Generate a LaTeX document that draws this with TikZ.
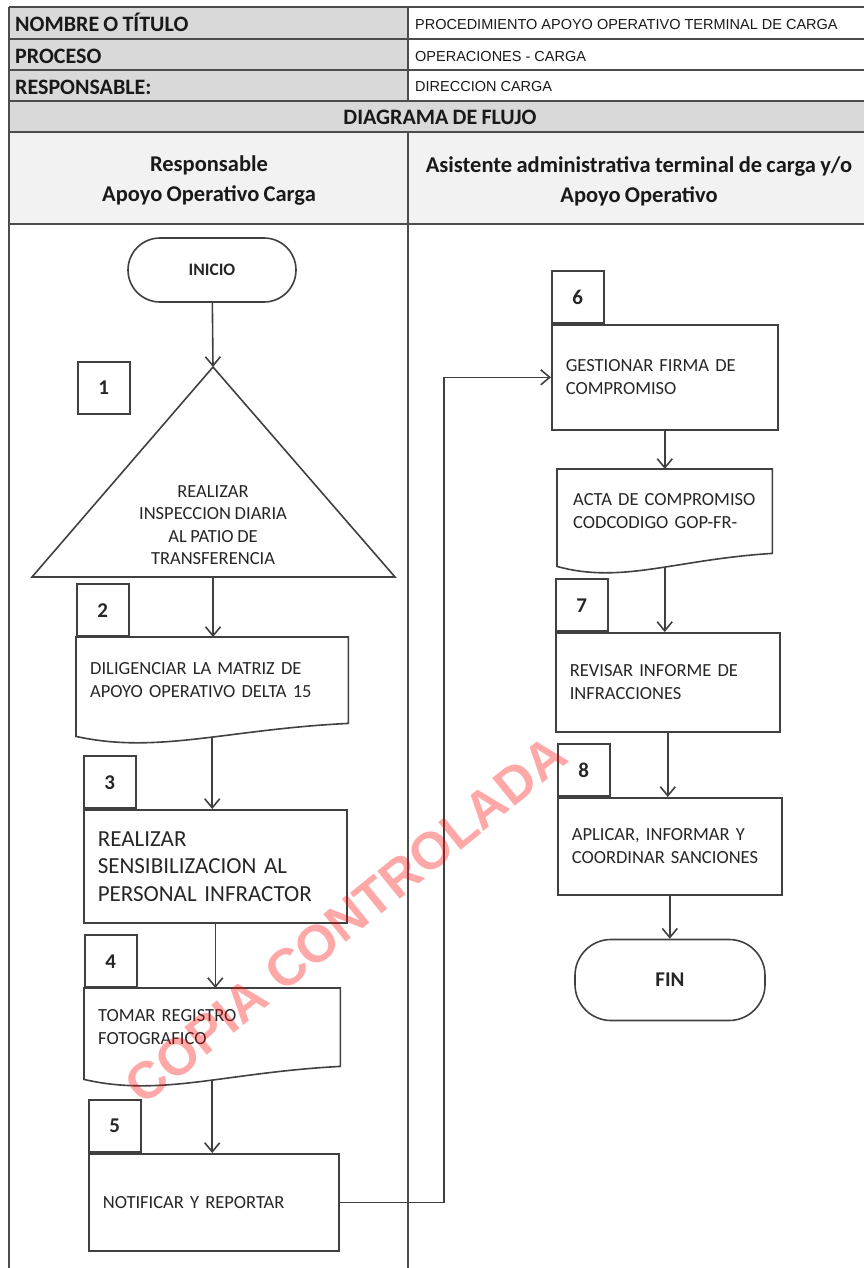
\documentclass[tikz,border=0pt]{standalone}
\usepackage{fontspec}
\setmainfont[WordSpace=0.85]{Carlito}
\newfontfamily\narrowfont{Liberation Sans}
\newfontfamily\markfont{Liberation Sans}
\usetikzlibrary{arrows.meta,calc}

\definecolor{cellgray}{HTML}{D9D9D9}
\definecolor{lanegray}{HTML}{F2F2F2}
\definecolor{ink}{HTML}{262626}

% document symbol: flat top, wavy bottom
\newcommand\docwave[1]{%
  \draw[outline] ([yshift=-13pt]#1.south west) -- (#1.north west) -- (#1.north east) -- (#1.south east)
    .. controls ($(#1.south west)!0.55!(#1.south east)+(0pt,-6pt)$) and ($(#1.south west)!0.3!(#1.south east)+(0pt,-31pt)$) .. ([yshift=-13pt]#1.south west) -- cycle;}

\begin{document}
\begin{tikzpicture}[x=1pt,y=-1pt,
    grid/.style={draw=black!70,line width=2pt},
    outline/.style={draw=black!75,line width=1.6pt},
    arr/.style={draw=black!75,line width=1.6pt,-{Straight Barb[length=9pt,width=15pt]}},
    flowtxt/.style={text=ink,font=\fontsize{18.5}{23.5}\selectfont},
    proc/.style={outline,flowtxt,anchor=north west,inner xsep=14pt,inner ysep=0pt,align=left},
    doc/.style={flowtxt,anchor=north west,inner xsep=14pt,inner ysep=0pt,align=left},
    tab/.style={outline,anchor=south west,minimum width=52pt,minimum height=52pt,inner sep=0pt,text=ink,font=\bfseries\fontsize{21}{21}\selectfont},
    term/.style={outline,text=ink,font=\bfseries\fontsize{17.5}{17.5}\selectfont},
    cellhdr/.style={anchor=base west,inner sep=0pt,text=black!90,font=\bfseries\fontsize{22}{22}\selectfont},
    cellval/.style={anchor=base west,inner sep=0pt,text=black!90,font=\narrowfont\fontsize{14.5}{14.5}\selectfont},
    lanehdr/.style={align=center,inner sep=0pt,text=black!90,font=\bfseries\fontsize{22.5}{30}\selectfont}]
    \useasboundingbox (0,0) rectangle (864,1268);
    \clip (0,0) rectangle (864,1268);

    % Header cells
    \fill[cellgray] (9,7) rectangle (408,101);
    \fill[cellgray] (9,101) rectangle (870,132);
    \fill[lanegray] (9,132) rectangle (870,224);
    \foreach \y in {7,39,70,101,132,224}
        \draw[grid] (9,\y) -- (870,\y);
    \draw[grid] (9,7) -- (9,1270);
    \draw[grid] (408,7) -- (408,101);
    \draw[grid] (408,132) -- (408,1270);

    \node[cellhdr] (tname) at (15,32) {NOMBRE O TÍTULO};
    \node[cellhdr] (tproc) at (15,64) {PROCESO};
    \node[cellhdr] (tresp) at (15,95) {RESPONSABLE:};
    \node[cellval] (vname) at (415,30) {PROCEDIMIENTO APOYO OPERATIVO TERMINAL DE CARGA};
    \node[cellval] (vproc) at (415,62) {OPERACIONES - CARGA};
    \node[cellval] (vresp) at (415,92) {DIRECCION CARGA};
    \node[cellhdr,anchor=base] (tdiag) at (440,125) {DIAGRAMA DE FLUJO};

    % Lanes
    \node[lanehdr] (laneA) at (209,181) {Responsable\\Apoyo Operativo Carga};
    \node[lanehdr] (laneB) at (639,181) {Asistente administrativa terminal de carga y/o\\Apoyo Operativo};

    % Left lane
    \node[term,minimum width=168pt,minimum height=64pt,rounded corners=32pt] (inicio) at (212,270) {INICIO};

    \node[tab,anchor=north west] (n1) at (77,361) {1};
    \coordinate (t1top) at (213,367);
    \coordinate (t1left) at (32,577);
    \coordinate (t1right) at (395,577);
    \coordinate (t1base) at (t1left -| t1top);
    \draw[outline] (t1left) -- (t1top) -- (t1right) -- cycle;
    \node[flowtxt,align=center,font=\fontsize{18.5}{22.5}\selectfont] (p1) at (213,525) {REALIZAR\\INSPECCION DIARIA\\AL PATIO DE\\TRANSFERENCIA};

    \node[tab] (n2) at (76,637) {2};
    \node[doc,text width=244pt,minimum height=86pt] (d2) at (76,637) {DILIGENCIAR LA MATRIZ DE\\APOYO OPERATIVO DELTA 15};
    \docwave{d2}
    \coordinate (d2out) at ([yshift=-14pt]d2.south);

    \node[tab] (n3) at (83,809) {3};
    \node[proc,text width=235pt,minimum height=113pt,font=\fontsize{23}{27.5}\selectfont] (p3) at (83,809) {REALIZAR\\SENSIBILIZACION AL\\PERSONAL INFRACTOR};

    \node[tab] (n4) at (84,988) {4};
    \node[doc,text width=228pt,minimum height=78pt] (d4) at (84,988) {TOMAR REGISTRO\\FOTOGRAFICO};
    \docwave{d4}
    \coordinate (d4out) at ([yshift=-14pt]d4.south);

    \node[tab] (n5) at (88,1153) {5};
    \node[proc,text width=222pt,minimum height=97pt] (p5) at (88,1153) {NOTIFICAR Y REPORTAR};

    % Right lane
    \node[tab] (n6) at (551,324) {6};
    \node[proc,text width=198pt,minimum height=105pt] (p6) at (551,324) {GESTIONAR FIRMA DE\\COMPROMISO};

    \node[doc,inner xsep=16pt,text width=183pt,minimum height=84pt] (dacta) at (557,469) {ACTA DE COMPROMISO\\CODCODIGO GOP-FR-};
    \docwave{dacta}
    \coordinate (daout) at ([yshift=-14pt]dacta.south);

    \node[tab] (n7) at (555,632) {7};
    \node[proc,text width=196pt,minimum height=99pt] (p7) at (555,632) {REVISAR INFORME DE\\INFRACCIONES};

    \node[tab] (n8) at (557,797) {8};
    \node[proc,text width=196pt,minimum height=97pt] (p8) at (557,797) {APLICAR, INFORMAR Y\\COORDINAR SANCIONES};

    \node[term,minimum width=190pt,minimum height=81pt,rounded corners=36pt,font=\bfseries\fontsize{21}{21}\selectfont] (fin) at (670,980) {FIN};

    % Connectors
    \coordinate (bend) at (444,0);
    \draw[arr] (inicio) -- (t1top);
    \draw[arr] (t1base) -- (t1base |- d2.north);
    \draw[arr] (d2out) -- (d2out |- p3.north);
    \draw[arr] (p3.south) -- (p3.south |- d4.north);
    \draw[arr] (d4out) -- (d4out |- p5.north);
    \draw[arr] (p5.east) -| (bend |- p6.west) -- (p6.west);
    \draw[arr] (p6.south) -- (p6.south |- dacta.north);
    \draw[arr] (daout) -- (daout |- p7.north);
    \draw[arr] (p7.south) -- (p7.south |- p8.north);
    \draw[arr] (p8.south) -- (p8.south |- fin.north);

    % Watermark
    \node[font=\markfont\bfseries\fontsize{52}{52}\selectfont,text=red,opacity=0.34,rotate=39] (stamp) at (346,920) {COPIA CONTROLADA};
\end{tikzpicture}
\end{document}
